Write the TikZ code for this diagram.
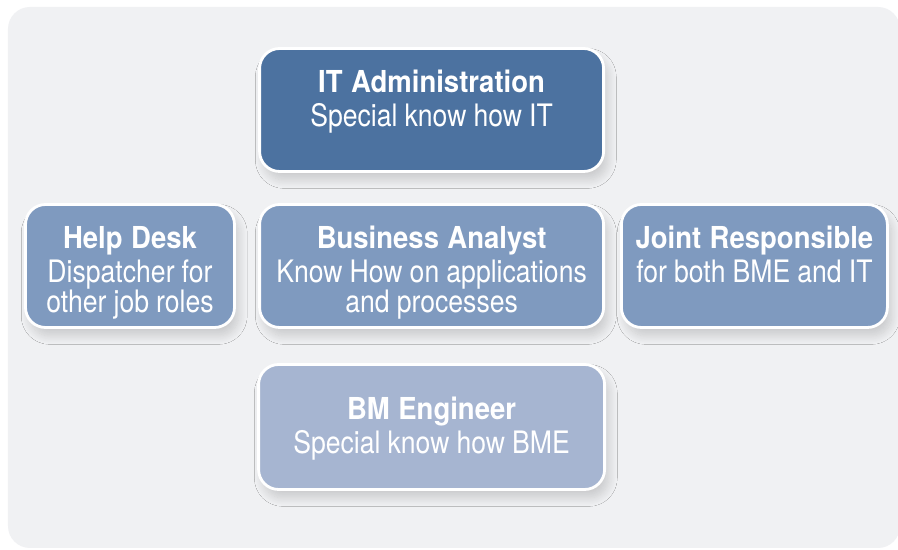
\documentclass[tikz,border=0pt]{standalone}
\usepackage{fontspec}
\setmainfont{TeX Gyre Heros}[FakeStretch=0.86]
\newfontfamily\roletitlefont{TeX Gyre Heros}[FakeStretch=0.91]
\usetikzlibrary{shadows.blur}
\definecolor{panelgray}{RGB}{240,241,243}
\definecolor{roledark}{RGB}{76,114,160}
\definecolor{rolemid}{RGB}{127,154,191}
\definecolor{rolelight}{RGB}{166,181,209}

% bold title line, then tighter word spacing for the description
\newcommand{\rolehead}[1]{{\roletitlefont\bfseries\fontsize{21.5}{21.3}\selectfont\spaceskip=0.28em\relax #1}\\[0.1cm]\spaceskip=0.23em\relax}

\begin{document}
\begin{tikzpicture}[scale=1,
    role/.style={draw=white, line width=2pt, rounded corners=0.5cm,
      text=white, align=center, inner sep=0pt, text width=#1,
      text height=1.11cm, text depth=1.965cm,
      font=\fontsize{22}{21.3}\selectfont,
      blur shadow={shadow xshift=3pt, shadow yshift=-6pt,
        shadow blur radius=6pt, shadow blur steps=12, shadow opacity=16}}]
            \useasboundingbox (0,0) rectangle (22.45,13.75);
            \fill[white] (0,0) rectangle (22.45,13.75);
            \fill[panelgray, rounded corners=0.55cm] (0.2,0.05) rectangle (22.5,13.575);

            % top row
            \node[role=8.6cm, fill=roledark] (itadm) at (10.79,11.0)
                {\rolehead{IT Administration}Special know how IT};
            % middle row
            \node[role=5.225cm, fill=rolemid] (helpdesk) at (3.25,7.1)
                {\rolehead{Help Desk}Dispatcher for\\other job roles};
            \node[role=8.6cm, fill=rolemid] (analyst) at (10.79,7.1)
                {\rolehead{Business Analyst}Know How on applications\\and processes};
            \node[role=6.65cm, fill=rolemid] (joint) at (18.86,7.1)
                {\rolehead{Joint Responsible}for both BME and IT};
            % bottom row, text sits a bit lower
            \node[role=8.65cm, fill=rolelight, text height=1.38cm, text depth=1.745cm] (bmeng) at (10.79,3.075)
                {\rolehead{BM Engineer}Special know how BME};
            \end{tikzpicture}
\end{document}
